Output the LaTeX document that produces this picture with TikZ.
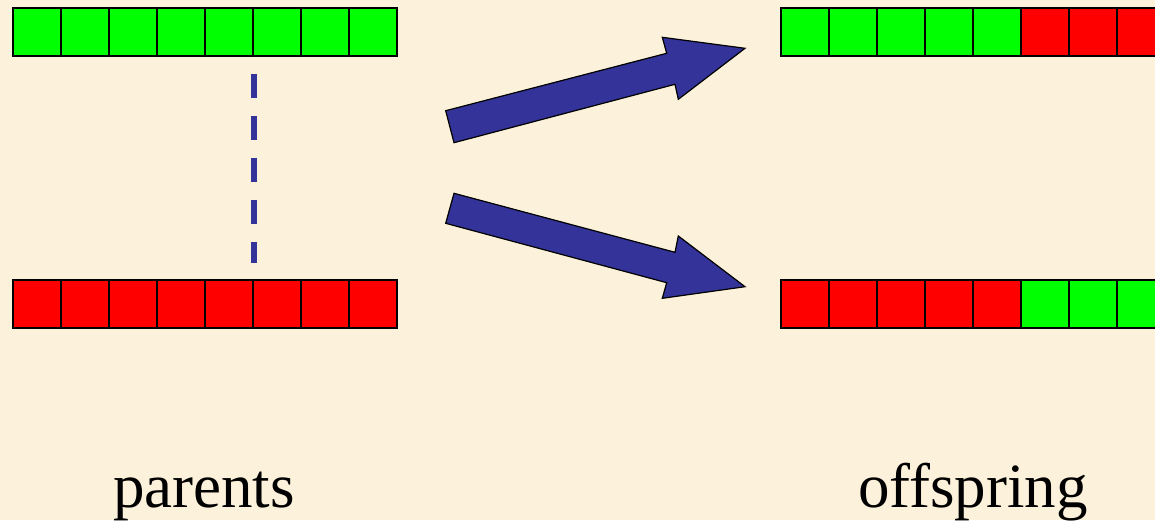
\documentclass[tikz,border=0pt]{standalone}
\usepackage{fontspec}
\setmainfont{Liberation Serif}
\usepackage{xcolor}
\usepackage{tikz}
\usetikzlibrary{positioning, calc}

\definecolor{parchment}{HTML}{FCF1DA}
\definecolor{genegreen}{HTML}{00FF00}
\definecolor{genered}{HTML}{FF0000}
\definecolor{arrowblue}{HTML}{333399}

\begin{document}
\begin{tikzpicture}[
  x=1pt, y=-1pt,
  cell/.style={rectangle, draw=black, line width=2pt, minimum size=48pt, inner sep=0pt},
  gr/.style={cell, fill=genegreen},
  rd/.style={cell, fill=genered},
  cut/.style={arrowblue, line width=6pt, dash pattern=on 24pt off 18pt},
  blockarrow/.style={fill=arrowblue, draw=black, line width=1.2pt, line join=miter},
  label/.style={font=\fontsize{63}{70}\selectfont, anchor=base, inner sep=0pt}
]

% Background
\useasboundingbox (0,0) rectangle (1155,520);
\clip (0,0) rectangle (1155,520);
\fill[parchment] (0,0) rectangle (1155,520);

% Parents
\foreach \i in {1,...,8} {
  \node[gr] (pa\i) at ({13+48*(\i-0.5)}, 31.5) {};
  \node[rd] (pb\i) at ({13+48*(\i-0.5)}, 304) {};
}

% Offspring
\foreach \i in {1,...,5} {
  \node[gr] (oa\i) at ({781+48*(\i-0.5)}, 31.5) {};
  \node[rd] (ob\i) at ({781+48*(\i-0.5)}, 304) {};
}
\foreach \i in {6,...,8} {
  \node[rd] (oa\i) at ({781+48*(\i-0.5)}, 31.5) {};
  \node[gr] (ob\i) at ({781+48*(\i-0.5)}, 304) {};
}

% Crossover point
\draw[cut] ([yshift=-17pt]pa5.south east) -- ([yshift=16pt]pb5.north east);

% Arrows
\draw[blockarrow] (445.7,110.7) -- (666.7,53.3) -- (662.3,37.3) -- (745,48.3)
  -- (678.3,99.3) -- (675,84.3) -- (454,142.7) -- cycle;
\draw[blockarrow] (454,193.3) -- (675,252.3) -- (678.3,236) -- (745,286.7)
  -- (662.3,298.3) -- (666.7,282.7) -- (445.7,223.3) -- cycle;

% Labels
\node[label] (parents) at (204,507) {parents};
\node[label] (offspring) at (973,507) {offspring};

\end{tikzpicture}
\end{document}
